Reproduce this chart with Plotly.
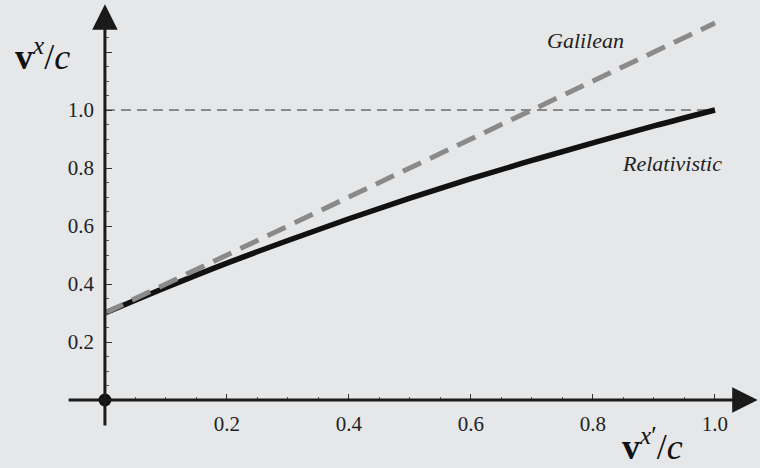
import plotly.graph_objects as go

# Data
x_rel = [0.0, 0.1, 0.2, 0.3, 0.4, 0.5, 0.6, 0.7, 0.8, 0.9, 1.0]
v_rel = [0.300, 0.388, 0.472, 0.550, 0.625, 0.696, 0.763, 0.826, 0.887, 0.945, 1.000]
x_gal = [0.0, 1.0]
v_gal = [0.3, 1.3]
x_lim = [0.0, 1.0]
v_lim = [1.0, 1.0]

x_major = [0.2, 0.4, 0.6, 0.8, 1.0]
x_major_text = ["0.2", "0.4", "0.6", "0.8", "1.0"]
x_minor = [0.05, 0.1, 0.15, 0.25, 0.3, 0.35, 0.45, 0.5, 0.55, 0.65, 0.7, 0.75, 0.85, 0.9, 0.95]
y_major = [0.2, 0.4, 0.6, 0.8, 1.0, 1.2]
y_major_text = ["0.2", "0.4", "0.6", "0.8", "1.0", ""]
y_minor = [0.05, 0.1, 0.15, 0.25, 0.3, 0.35, 0.45, 0.5, 0.55, 0.65, 0.7, 0.75, 0.85, 0.9, 0.95,
           1.05, 1.1, 1.15, 1.25]

BG = "#e6e7e9"
FONT = "Liberation Serif, Times New Roman, serif"
AX = "#1a1a1a"
GREY = "#8a8a8a"

fig = go.Figure()
fig.add_trace(go.Scatter(x=x_lim, y=v_lim, mode="lines",
                         line=dict(color=GREY, width=2, dash="10px,6px"), hoverinfo="skip"))
fig.add_trace(go.Scatter(x=x_rel, y=v_rel, mode="lines", line_shape="spline",
                         line=dict(color="#111111", width=5.5), hoverinfo="skip"))
fig.add_trace(go.Scatter(x=x_gal, y=v_gal, mode="lines",
                         line=dict(color=GREY, width=5, dash="20px,10px"), hoverinfo="skip"))
fig.add_trace(go.Scatter(x=[0], y=[0], mode="markers",
                         marker=dict(color="#111111", size=13), hoverinfo="skip"))

xr = [-0.172, 1.0738]
yr = [-0.2345, 1.3793]

annotations = [
    # axes with arrows
    dict(x=1.070, y=0, ax=-0.062, ay=0, xref="x", yref="y", axref="x", ayref="y",
         showarrow=True, arrowhead=2, arrowsize=1.7, arrowwidth=3, arrowcolor=AX, text=""),
    dict(x=0, y=1.365, ax=0, ay=-0.093, xref="x", yref="y", axref="x", ayref="y",
         showarrow=True, arrowhead=2, arrowsize=1.7, arrowwidth=3, arrowcolor=AX, text=""),
    dict(text="<i>Galilean</i>", x=0.788, y=1.238, xref="x", yref="y", showarrow=False,
         font=dict(family=FONT, size=22, color="#222222"),
         xanchor="center", yanchor="middle"),
    dict(text="<i>Relativistic</i>", x=0.93, y=0.817, xref="x", yref="y", showarrow=False,
         font=dict(family=FONT, size=22, color="#222222"),
         xanchor="center", yanchor="middle"),
    dict(text="<b>v</b><sup><i>x</i></sup>/<i>c</i>", x=-0.150, y=1.19, xref="x", yref="y",
         showarrow=False, font=dict(family=FONT, size=36, color="#111111"),
         xanchor="left", yanchor="middle"),
    dict(text="<b>v</b><sup><i>x</i>′</sup>/<i>c</i>", x=0.845, y=-0.152, xref="x", yref="y",
         showarrow=False, font=dict(family=FONT, size=36, color="#111111"),
         xanchor="left", yanchor="middle"),
]

fig.update_layout(
    width=760, height=468,
    margin=dict(l=0, r=0, t=0, b=0),
    paper_bgcolor=BG, plot_bgcolor=BG,
    showlegend=False,
    font=dict(family=FONT),
    annotations=annotations,
    xaxis=dict(range=xr, domain=[0, 1], anchor="free", position=68 / 468,
               showline=False, zeroline=False, showgrid=False,
               tickmode="array", tickvals=x_major, ticktext=x_major_text,
               ticks="inside", ticklen=6, tickwidth=1.3, tickcolor="#333333",
               tickfont=dict(family=FONT, size=21, color="#222222"),
               ticklabelstandoff=9,
               minor=dict(tickmode="array", tickvals=x_minor, ticks="inside",
                          ticklen=3, tickwidth=1.1, tickcolor="#555555", showgrid=False)),
    yaxis=dict(range=yr, domain=[0, 1], anchor="free", position=105 / 760,
               showline=False, zeroline=False, showgrid=False,
               tickmode="array", tickvals=y_major, ticktext=y_major_text,
               ticks="inside", ticklen=6, tickwidth=1.3, tickcolor="#333333",
               tickfont=dict(family=FONT, size=21, color="#222222"),
               ticklabelstandoff=11,
               minor=dict(tickmode="array", tickvals=y_minor, ticks="inside",
                          ticklen=3, tickwidth=1.1, tickcolor="#555555", showgrid=False)),
)

fig.write_html("out.html")
